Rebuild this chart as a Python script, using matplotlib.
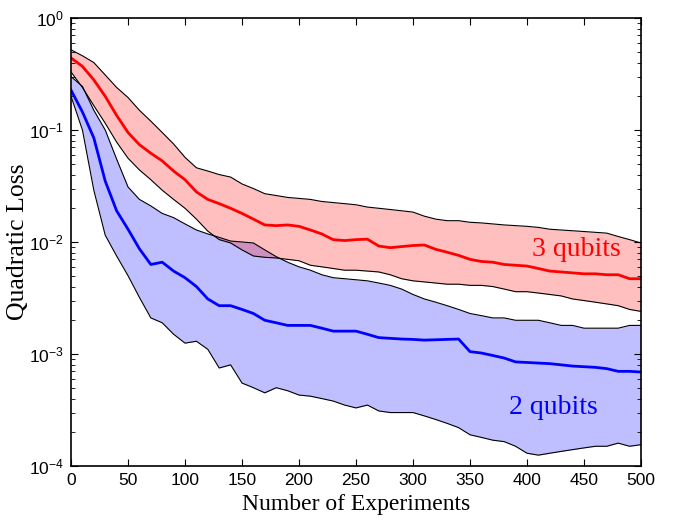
import matplotlib
matplotlib.use("Agg")
import matplotlib.pyplot as plt
import numpy as np
from matplotlib.ticker import LogLocator, MultipleLocator, NullFormatter


# Loss vs. number of experiments, sampled every 10 experiments.
experiments = np.arange(0, 501, 10)

# 3 qubits: upper bound, median, lower bound
loss3_upper = [
    0.52, 0.46, 0.40, 0.31, 0.24, 0.195, 0.15, 0.12, 0.095, 0.075,
    0.057, 0.046, 0.043, 0.040, 0.038, 0.033, 0.030, 0.027, 0.026, 0.025,
    0.0245, 0.024, 0.023, 0.0225, 0.022, 0.0215, 0.0205, 0.020, 0.0195, 0.019,
    0.0185, 0.017, 0.016, 0.0155, 0.0155, 0.015, 0.0148, 0.0145, 0.0142, 0.014,
    0.0138, 0.0135, 0.013, 0.0128, 0.0126, 0.0124, 0.0122, 0.012, 0.0112, 0.0105,
    0.0098,
]
loss3_median = [
    0.44, 0.37, 0.28, 0.20, 0.135, 0.095, 0.074, 0.062, 0.053, 0.043,
    0.036, 0.028, 0.024, 0.022, 0.020, 0.018, 0.016, 0.0142, 0.014, 0.0142,
    0.0138, 0.0128, 0.0118, 0.0105, 0.0103, 0.0105, 0.0106, 0.0092, 0.0089, 0.0091,
    0.0093, 0.0094, 0.0086, 0.0081, 0.0076, 0.0070, 0.0067, 0.0066, 0.0063, 0.0062,
    0.0061, 0.0058, 0.0055, 0.0054, 0.0053, 0.0052, 0.0052, 0.0051, 0.0051, 0.0047,
    0.0047,
]
loss3_lower = [
    0.33, 0.24, 0.165, 0.115, 0.078, 0.056, 0.044, 0.036, 0.029, 0.024,
    0.020, 0.016, 0.0125, 0.0105, 0.0098, 0.0085, 0.0075, 0.0073, 0.0072, 0.0070,
    0.0068, 0.0062, 0.0060, 0.0058, 0.0056, 0.0056, 0.0055, 0.0054, 0.0051, 0.0047,
    0.0045, 0.0044, 0.0043, 0.0042, 0.0042, 0.0041, 0.0041, 0.0040, 0.0038, 0.0036,
    0.0036, 0.0035, 0.0034, 0.0033, 0.0031, 0.0030, 0.0029, 0.0028, 0.0027, 0.0025,
    0.0024,
]

# 2 qubits: upper bound, median, lower bound
loss2_upper = [
    0.30, 0.245, 0.15, 0.10, 0.055, 0.031, 0.024, 0.021, 0.018, 0.0165,
    0.0145, 0.0128, 0.0118, 0.0110, 0.0102, 0.0100, 0.0098, 0.0085, 0.0074, 0.0066,
    0.0060, 0.0056, 0.0051, 0.0048, 0.0047, 0.0046, 0.0045, 0.0043, 0.0041, 0.0038,
    0.0034, 0.0031, 0.0029, 0.0027, 0.0025, 0.0023, 0.0022, 0.0021, 0.0021, 0.0020,
    0.0020, 0.0020, 0.0019, 0.0018, 0.0018, 0.0017, 0.0017, 0.0017, 0.0017, 0.0018,
    0.0018,
]
loss2_median = [
    0.227, 0.145, 0.085, 0.035, 0.019, 0.013, 0.0087, 0.0063, 0.0066, 0.0055,
    0.0048, 0.0040, 0.0031, 0.0027, 0.0027, 0.0025, 0.0023, 0.0020, 0.0019, 0.0018,
    0.0018, 0.0018, 0.0017, 0.0016, 0.0016, 0.0016, 0.0015, 0.0014, 0.00138, 0.00136,
    0.00135, 0.00133, 0.00134, 0.00135, 0.00136, 0.00105, 0.00102, 0.00097, 0.00092, 0.00085,
    0.00084, 0.00083, 0.00082, 0.00080, 0.00078, 0.00077, 0.00076, 0.00074, 0.00070, 0.00070,
    0.00069,
]
loss2_lower = [
    0.20, 0.10, 0.029, 0.0115, 0.0075, 0.0050, 0.0032, 0.0021, 0.0019, 0.0015,
    0.00125, 0.0013, 0.0011, 0.00075, 0.0008, 0.00055, 0.0005, 0.00045, 0.0005, 0.00047,
    0.00043, 0.00042, 0.0004, 0.00038, 0.00035, 0.00033, 0.00035, 0.00031, 0.0003, 0.0003,
    0.0003, 0.00028, 0.00026, 0.00024, 0.00022, 0.00019, 0.00018, 0.00017, 0.000165, 0.00015,
    0.00013, 0.000125, 0.00013, 0.000135, 0.00014, 0.000145, 0.00015, 0.00015, 0.00016, 0.00015,
    0.000155,
]

plt.rcParams["font.family"] = ["Liberation Sans", "DejaVu Sans"]
plt.rcParams["mathtext.fontset"] = "custom"
plt.rcParams["mathtext.rm"] = "Liberation Sans"
plt.rcParams["mathtext.it"] = "Liberation Sans"
plt.rcParams["mathtext.default"] = "regular"

fig = plt.figure(figsize=(6.79, 5.22), dpi=100)
ax = fig.add_axes([0.1046, 0.1073, 0.8394, 0.8582])

# shaded ranges: blue first so the red overlap turns purple
ax.fill_between(experiments, loss2_lower, loss2_upper, color="blue", alpha=0.25, linewidth=0)
ax.fill_between(experiments, loss3_lower, loss3_upper, color="red", alpha=0.25, linewidth=0)

for edge in (loss2_lower, loss2_upper, loss3_lower, loss3_upper):
    ax.plot(experiments, edge, color="black", linewidth=0.8)

ax.plot(experiments, loss3_median, color="red", linewidth=2.0)
ax.plot(experiments, loss2_median, color="blue", linewidth=2.0)

ax.set_yscale("log")
ax.set_xlim(0, 500)
ax.set_ylim(1e-4, 1e0)
ax.xaxis.set_major_locator(MultipleLocator(50))
ax.yaxis.set_major_locator(LogLocator(base=10, numticks=10))
ax.yaxis.set_minor_locator(LogLocator(base=10, subs=np.arange(2, 10), numticks=10))
ax.yaxis.set_minor_formatter(NullFormatter())

ax.tick_params(which="both", direction="in", top=True, right=True, labelsize=12.5)
ax.tick_params(which="major", length=5, width=0.8, pad=5)
ax.tick_params(which="minor", length=3, width=0.6)
for spine in ax.spines.values():
    spine.set_linewidth(1.2)

ax.set_xlabel("Number of Experiments", family="Liberation Serif", fontsize=17)
ax.set_ylabel("Quadratic Loss", family="Liberation Serif", fontsize=18.5)
ax.xaxis.set_label_coords(0.5, -0.062)
ax.yaxis.set_label_coords(-0.074, 0.5)

ax.text(443, 0.0085, "3 qubits", color="red", family="Liberation Serif",
        fontsize=20, ha="center", va="center")
ax.text(423, 3.3e-4, "2 qubits", color="blue", family="Liberation Serif",
        fontsize=20, ha="center", va="center")

fig.savefig("out.png", dpi=100)
